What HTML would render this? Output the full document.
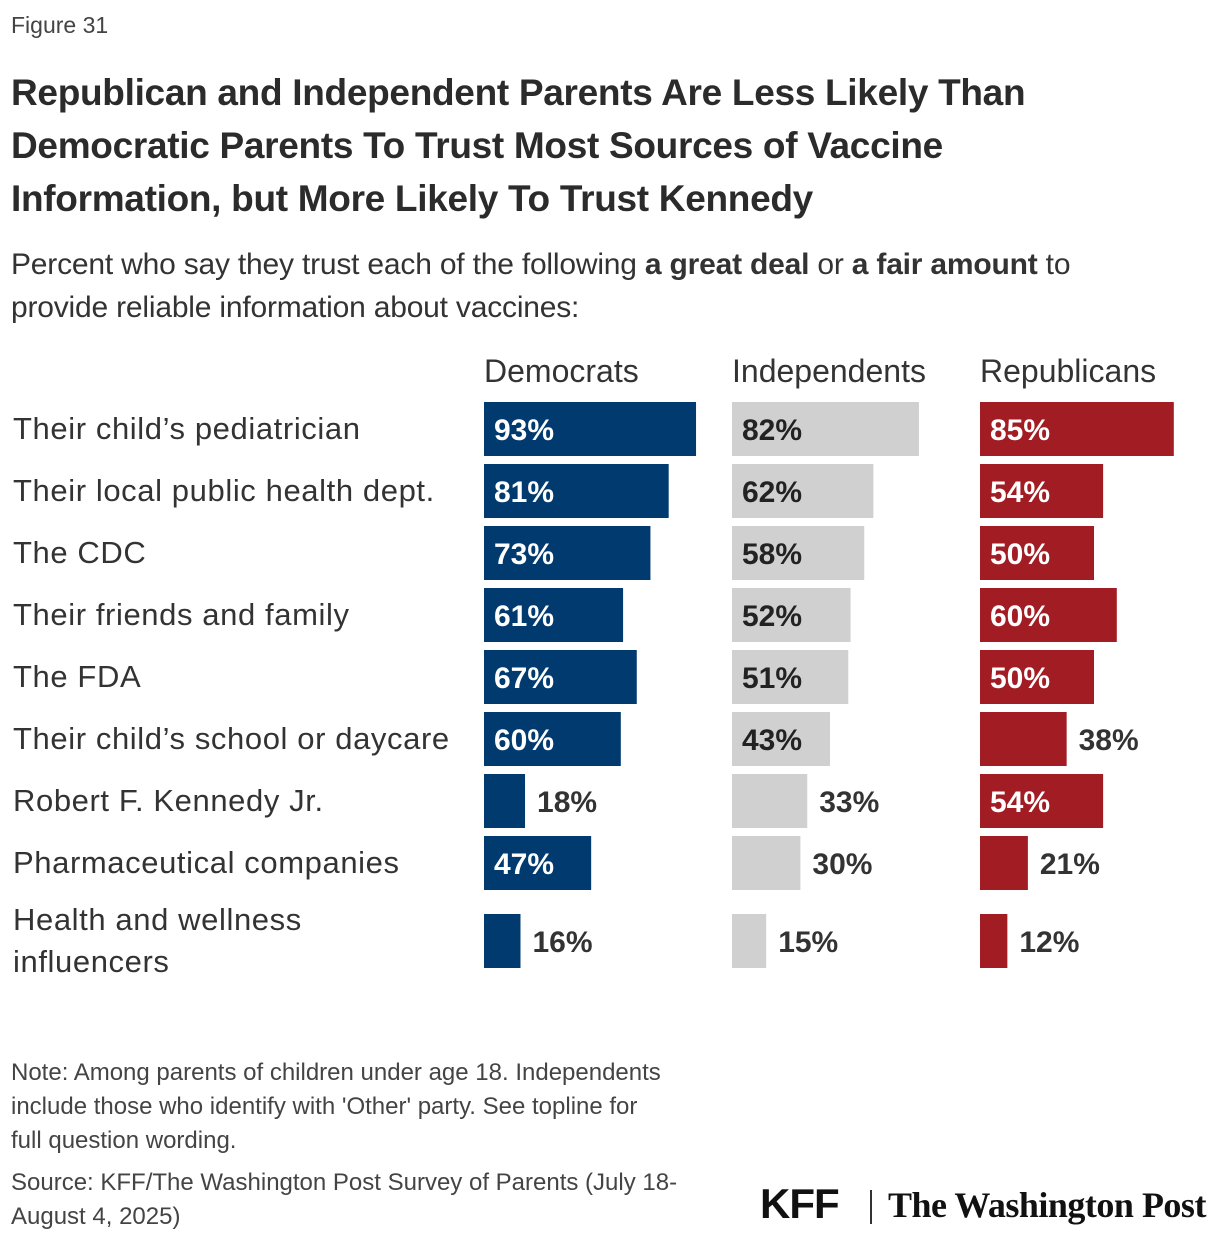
<!DOCTYPE html>
<html><head><meta charset="utf-8"><style>
body{margin:0;width:1220px;height:1244px;background:#fff;font-family:"Liberation Sans",sans-serif;color:#333;position:relative;overflow:hidden}
.abs{position:absolute}
</style></head><body>
<div class="abs" style="left:11px;top:12px;font-size:23px;color:#444">Figure 31</div>
<div class="abs" style="left:11px;top:66px;width:1210px;font-size:37px;font-weight:bold;line-height:53px;color:#2b2b2b;letter-spacing:-0.3px;white-space:nowrap">Republican and Independent Parents Are Less Likely Than<br>Democratic Parents To Trust Most Sources of Vaccine<br>Information, but More Likely To Trust Kennedy</div>
<div class="abs" style="left:11px;top:243px;width:1210px;font-size:30px;line-height:43px;color:#333;letter-spacing:-0.2px;white-space:nowrap">Percent who say they trust each of the following <b>a great deal</b> or <b>a fair amount</b> to<br>provide reliable information about vaccines:</div>
<svg class="abs" style="left:0;top:0" width="1220" height="1000" id="chart"></svg>
<div class="abs" style="left:11px;top:1056px;width:740px;font-size:24px;line-height:34px;color:#444;white-space:nowrap">Note: Among parents of children under age 18. Independents<br>include those who identify with 'Other' party. See topline for<br>full question wording.</div>
<div class="abs" style="left:11px;top:1166px;width:740px;font-size:24px;line-height:34px;color:#444;white-space:nowrap">Source: KFF/The Washington Post Survey of Parents (July 18-<br>August 4, 2025)</div>
<div class="abs" style="left:760px;top:1180px;font-size:42px;font-weight:bold;color:#111;letter-spacing:-1px">KFF</div>
<div class="abs" style="left:870px;top:1190px;width:2px;height:34px;background:#333"></div>
<div class="abs" style="left:888px;top:1184px;font-size:36px;font-family:'Liberation Serif',serif;font-weight:bold;color:#111;letter-spacing:-0.5px">The Washington Post</div>
<script>
const categories=["Their child\u2019s pediatrician","Their local public health dept.","The CDC","Their friends and family","The FDA","Their child\u2019s school or daycare","Robert F. Kennedy Jr.","Pharmaceutical companies","Health and wellness|influencers"];
const groups=["Democrats","Independents","Republicans"];
const democrats=[93,81,73,61,67,60,18,47,16];
const independents=[82,62,58,52,51,43,33,30,15];
const republicans=[85,54,50,60,50,38,54,21,12];
const series=[democrats,independents,republicans];
const colors=["#003a6e","#d0d0d0","#a11c23"];
const insideText=["#fff","#222","#fff"];
const svg=document.getElementById('chart');
const NS="http://www.w3.org/2000/svg";
const colX=[484,732,980];
const xs=v=>v*2.28;
const rowY=i=>i<8?402+i*62:914;
const barH=54;
function t(x,y,s,attrs){const e=document.createElementNS(NS,'text');e.setAttribute('x',x);e.setAttribute('y',y);e.textContent=s;for(const k in attrs)e.setAttribute(k,attrs[k]);svg.appendChild(e);return e;}
groups.forEach((g,j)=>{
 const e=t(colX[j],382,g,{'font-size':32,fill:'#333'});
 
 
});
categories.forEach((c,i)=>{
 const parts=c.split('|');const y=rowY(i);
 parts.forEach((p,k)=>{
  const yy=parts.length>1?y+16+k*42:y+37;
  const e=t(13,yy,p,{'font-size':31,fill:'#333','letter-spacing':'0.6'});
  
  
 });
 series.forEach((s,j)=>{
  const v=s[i];const w=xs(v);
  const r=document.createElementNS(NS,'rect');
  r.setAttribute('x',colX[j]);r.setAttribute('y',y);r.setAttribute('width',w);r.setAttribute('height',barH);r.setAttribute('fill',colors[j]);
  
  
  svg.appendChild(r);
  const inside=v>=40;
  const e=t(inside?colX[j]+10:colX[j]+w+12,y+38,v+'%',{'font-size':30,'font-weight':'bold',fill:inside?insideText[j]:'#333'});
  
  
 });
});
</script>
</body></html>
